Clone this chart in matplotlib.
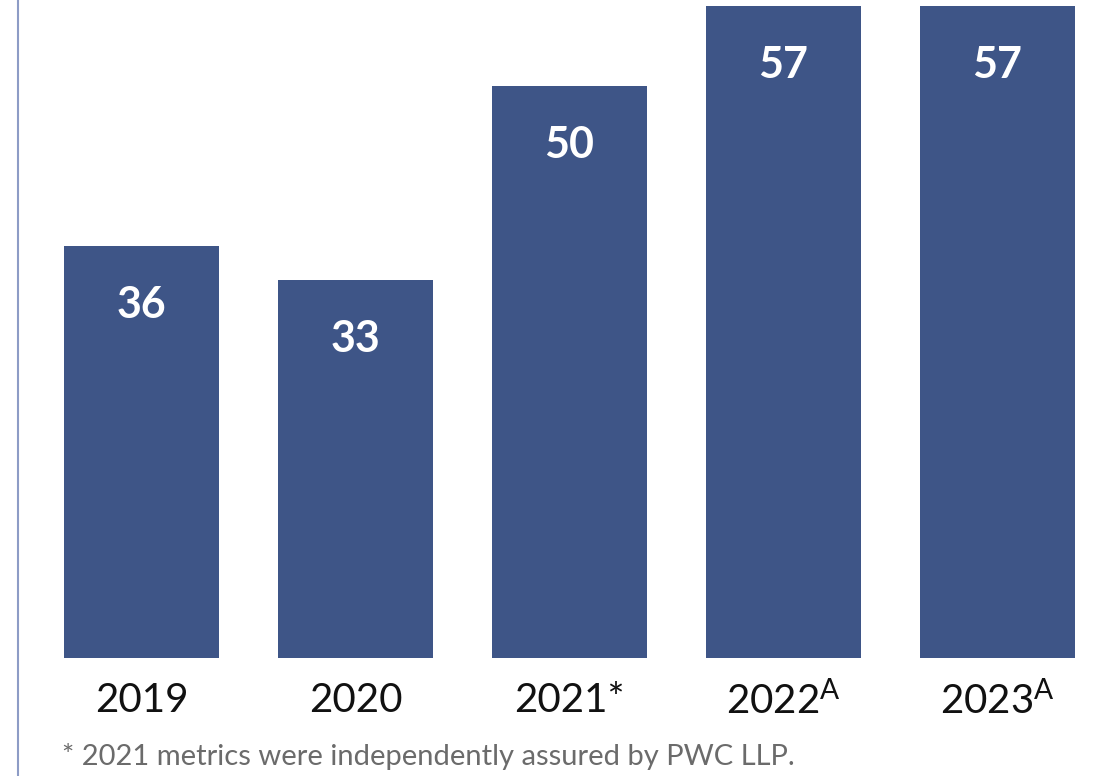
import matplotlib.pyplot as plt
from matplotlib.lines import Line2D
import numpy as np

years = ["2019", "2020", "2021*", r"$\mathregular{2022^A}$", r"$\mathregular{2023^A}$"]
values = [36, 33, 50, 57, 57]
footnote = "* 2021 metrics were independently assured by PWC LLP."

bar_color = "#3e5587"

plt.rcParams["font.family"] = ["Lato", "DejaVu Sans"]

W, H = 1114, 776
fig = plt.figure(figsize=(W / 100, H / 100), dpi=100)

# axes spans the full width, bar baseline at 658px from top
ax = fig.add_axes([0, 118 / H, 1, 1 - 118 / H])
ax.set_axis_off()

x = np.arange(len(values))
ax.bar(x, values, width=155 / 214, color=bar_color)
ax.set_xlim(-141.5 / 214, (W - 141.5) / 214)
ax.set_ylim(0, 658 / 11.44)

for xi, v in zip(x, values):
    ax.annotate(str(v), (xi, v), xytext=(0, -59 * 0.72), textcoords="offset points",
                ha="center", va="center", color="white", fontsize=31, fontweight="bold")

for xi, lab in zip(x, years):
    ax.annotate(lab, (xi, 0), xytext=(0, -43 * 0.72), textcoords="offset points",
                ha="center", va="center", color="#111111", fontsize=29)

fig.text(62 / W, 1 - 757 / H, footnote, ha="left", va="center",
         color="#6b6b6b", fontsize=21)

fig.add_artist(Line2D([17.5 / W, 17.5 / W], [0, 1], color="#8d9cc6", lw=1.5))

fig.savefig("out.png", dpi=100)
